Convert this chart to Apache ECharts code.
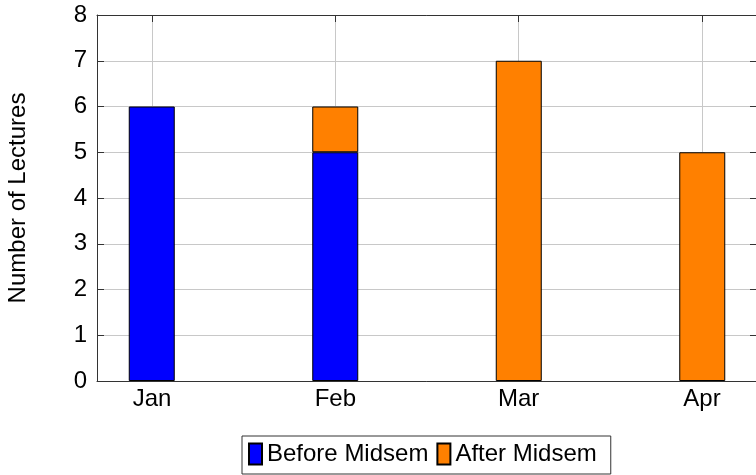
<!DOCTYPE html>
<html>
<head>
<meta charset="utf-8">
<script src="https://cdn.jsdelivr.net/npm/echarts@6/dist/echarts.min.js"></script>
<style>html,body{margin:0;padding:0;background:#fff}#c{width:756px;height:475px}</style>
</head>
<body>
<div id="c"></div>
<script>
var categories = ['Jan', 'Feb', 'Mar', 'Apr'];
var beforeMidsem = [6, 5, null, null];
var afterMidsem = [null, 1, 7, 5];
var yTicks = [0, 1, 2, 3, 4, 5, 6, 7, 8];
var seriesNames = ['Before Midsem', 'After Midsem'];

var FONT = 'Liberation Sans, Helvetica, Arial, sans-serif';
var FS = 24;
var catIdx = categories.map(function (c, i) { return i; });

var chart = echarts.init(document.getElementById('c'), null, { renderer: 'canvas' });
function axisLine() { return { show: true, onZero: false, lineStyle: { color: '#333', width: 1 } }; }
function tick(custom) {
  var t = { show: true, inside: true, length: 7, lineStyle: { color: '#333' } };
  if (custom) t.customValues = custom;
  return t;
}

chart.setOption({
  animation: false,
  grid: [
    { left: 97, top: 15, width: 660, height: 366, outerBoundsMode: 'none', containLabel: false },
    // bar placement grid: category bands of 183.5px centred on the frame's tick positions
    { left: 97 - 37, top: 15, width: 734, height: 366, outerBoundsMode: 'none', containLabel: false }
  ],
  legend: {
    data: seriesNames,
    left: 242, top: 436,
    padding: [6, 14, 8, 6],
    itemGap: 8,
    itemWidth: 13, itemHeight: 21,
    icon: 'rect',
    borderColor: '#333', borderWidth: 1,
    textStyle: { fontFamily: FONT, fontSize: FS, color: '#000' }
  },
  xAxis: [{
    gridIndex: 0, type: 'value', min: -0.3, max: 3.3, position: 'bottom',
    axisLine: axisLine(),
    axisTick: tick(catIdx),
    axisLabel: { customValues: catIdx, margin: 6, fontFamily: FONT, fontSize: FS, color: '#000',
      formatter: function (v) { return categories[Math.round(v)] || ''; } },
    splitLine: { show: true, lineStyle: { color: '#c8c8c8', width: 1 } }
  }, {
    gridIndex: 0, type: 'value', min: -0.3, max: 3.3, position: 'top',
    axisLine: axisLine(),
    axisTick: tick(catIdx),
    axisLabel: { show: false, customValues: catIdx },
    splitLine: { show: false }
  }, {
    gridIndex: 1, type: 'category', data: categories, boundaryGap: true, show: false
  }],
  yAxis: [{
    gridIndex: 0, type: 'value', min: 0, max: 8, interval: 1, position: 'left',
    name: 'Number of Lectures', nameLocation: 'middle', nameRotate: 90, nameGap: 67,
    nameTextStyle: { fontFamily: FONT, fontSize: FS, color: '#000' },
    axisLine: axisLine(),
    axisTick: tick(),
    axisLabel: { margin: 10, fontFamily: FONT, fontSize: FS, color: '#000', customValues: yTicks },
    splitLine: { show: true, lineStyle: { color: '#c8c8c8', width: 1 } }
  }, {
    gridIndex: 0, type: 'value', min: 0, max: 8, interval: 1, position: 'right',
    axisLine: axisLine(),
    axisTick: tick(),
    axisLabel: { show: false },
    splitLine: { show: false }
  }, {
    gridIndex: 1, type: 'value', min: 0, max: 8, show: false
  }],
  series: [{
    name: seriesNames[0], type: 'bar', stack: 'total', barWidth: 46,
    xAxisIndex: 2, yAxisIndex: 2,
    data: beforeMidsem,
    itemStyle: { color: '#0000ff', borderColor: '#000', borderWidth: 1 }
  }, {
    name: seriesNames[1], type: 'bar', stack: 'total', barWidth: 46,
    xAxisIndex: 2, yAxisIndex: 2,
    data: afterMidsem,
    itemStyle: { color: '#ff8000', borderColor: '#000', borderWidth: 1 }
  }]
});
</script>
</body>
</html>
